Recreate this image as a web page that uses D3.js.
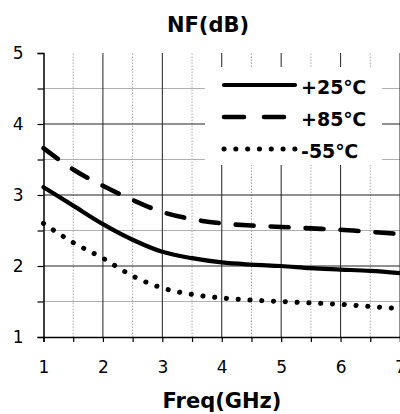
<!DOCTYPE html>
<html>
<head>
<meta charset="utf-8">
<script src="https://cdn.jsdelivr.net/npm/d3@7"></script>
<style>
  body { margin: 0; background: #fff; }
  text { font-family: "DejaVu Sans", Verdana, sans-serif; fill: #000; }
</style>
</head>
<body>
<div id="chart"></div>
<script>
// values
var freq = [1, 1.5, 2, 2.5, 3, 3.5, 4, 4.5, 5, 5.5, 6, 6.5, 7];
var nf25 = [3.11, 2.85, 2.59, 2.37, 2.20, 2.11, 2.05, 2.02, 2.00, 1.97, 1.95, 1.93, 1.90];
var nf85 = [3.66, 3.36, 3.13, 2.93, 2.76, 2.66, 2.60, 2.57, 2.55, 2.53, 2.51, 2.48, 2.45];
var nfm55 = [2.60, 2.33, 2.11, 1.86, 1.69, 1.60, 1.55, 1.52, 1.50, 1.48, 1.46, 1.43, 1.40];
var seriesNames = ["+25℃", "+85℃", "-55℃"];
var xTicks = [1, 2, 3, 4, 5, 6, 7];
var yTicks = [1, 2, 3, 4, 5];

var width = 400, height = 414;

var svg = d3.select("#chart").append("svg")
    .attr("width", width)
    .attr("height", height);

var x = d3.scaleLinear().domain([1, 7]).range([43.5, 400]);
var y = d3.scaleLinear().domain([1, 5]).range([337, 53]);

var halfX = d3.range(1.5, 7, 1);
var halfY = d3.range(1.5, 5, 1);

// minor grid
svg.append("g").selectAll("line")
    .data(halfY).enter().append("line")
    .attr("x1", x(1)).attr("x2", x(7))
    .attr("y1", d => y(d)).attr("y2", d => y(d))
    .attr("stroke", "#b0b0b0").attr("stroke-width", 1);
svg.append("g").selectAll("line")
    .data(halfX).enter().append("line")
    .attr("x1", d => x(d)).attr("x2", d => x(d))
    .attr("y1", y(1)).attr("y2", y(5))
    .attr("stroke", "#aaa").attr("stroke-width", 1)
    .attr("stroke-dasharray", "1.5,1.5");

// major grid
svg.append("g").selectAll("line")
    .data(yTicks.slice(1, -1)).enter().append("line")
    .attr("x1", x(1)).attr("x2", x(7))
    .attr("y1", d => y(d)).attr("y2", d => y(d))
    .attr("stroke", "#222").attr("stroke-width", 1);
svg.append("g").selectAll("line")
    .data(xTicks.slice(1)).enter().append("line")
    .attr("x1", d => x(d)).attr("x2", d => x(d))
    .attr("y1", y(1)).attr("y2", y(5))
    .attr("stroke", "#222").attr("stroke-width", 1);

// axes
var xAxis = svg.append("g")
    .attr("transform", "translate(0," + y(1) + ")")
    .call(d3.axisBottom(x).tickValues(d3.range(1, 7.01, 0.5)).tickSize(5)
      .tickFormat(d => Number.isInteger(d) ? d : ""));
var yAxis = svg.append("g")
    .attr("transform", "translate(" + x(1) + ",0)")
    .call(d3.axisLeft(y).tickValues(d3.range(1, 5.01, 0.5)).tickSize(6)
      .tickFormat(d => Number.isInteger(d) ? d : ""));

[xAxis, yAxis].forEach(function(a) {
  a.select(".domain").attr("stroke", "#000").attr("stroke-width", 1.5);
  a.selectAll(".tick line").attr("stroke", "#000").attr("stroke-width", 1.2);
  a.selectAll("text").style("font-size", "17px").attr("fill", "#000");
});
xAxis.selectAll("text").attr("dy", "0").attr("y", 36);
yAxis.selectAll("text").attr("x", -20).attr("dy", "0.32em");

// legend box
svg.append("rect")
    .attr("x", 205).attr("y", 67)
    .attr("width", 177).attr("height", 98)
    .attr("fill", "#fff");

var line = d3.line()
    .x((d, i) => x(freq[i]))
    .y(d => y(d))
    .curve(d3.curveMonotoneX);

var styles = [
  {data: nf25, dash: null, w: 4.2},
  {data: nf85, dash: "18,17", w: 4.6},
  {data: nfm55, dash: "0.1,11.7", w: 5}
];

styles.forEach(function(s) {
  svg.append("path")
      .attr("d", line(s.data))
      .attr("fill", "none")
      .attr("stroke", "#000")
      .attr("stroke-width", s.w)
      .attr("stroke-linecap", "round")
      .attr("stroke-dasharray", s.dash);
});

// legend
var legendY = [85, 117, 149];
var legend = svg.selectAll(".legend")
    .data(seriesNames).enter().append("g")
    .attr("class", "legend");
legend.append("line")
    .attr("x1", 224).attr("x2", 295)
    .attr("y1", (d, i) => legendY[i]).attr("y2", (d, i) => legendY[i])
    .attr("stroke", "#000")
    .attr("stroke-width", (d, i) => styles[i].w)
    .attr("stroke-linecap", "round")
    .attr("stroke-dasharray", (d, i) => i == 1 ? "20,20" : styles[i].dash);
legend.append("text")
    .attr("x", 301)
    .attr("y", (d, i) => legendY[i] + 8.5)
    .style("font-size", "19px")
    .style("font-weight", "bold")
    .text(d => d);

// titles
svg.append("text")
    .attr("x", 208).attr("y", 32)
    .attr("text-anchor", "middle")
    .style("font-size", "21px").style("font-weight", "bold")
    .text("NF(dB)");
svg.append("text")
    .attr("x", 222).attr("y", 408)
    .attr("text-anchor", "middle")
    .style("font-size", "21px").style("font-weight", "bold")
    .text("Freq(GHz)");
</script>
</body>
</html>
